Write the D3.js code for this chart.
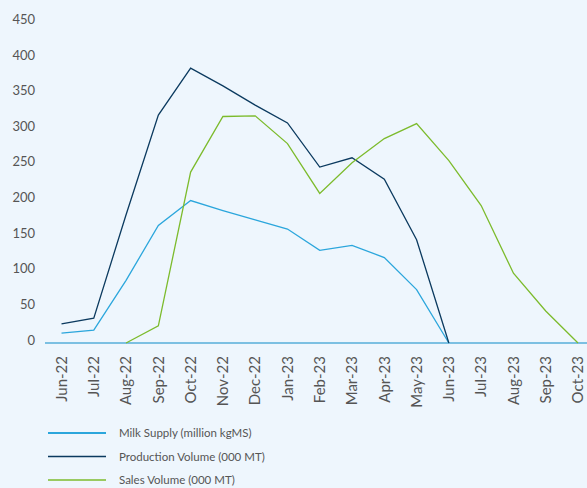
<!DOCTYPE html>
<html>
<head>
<meta charset="utf-8">
<script src="https://cdn.jsdelivr.net/npm/d3@7"></script>
<style>
  body { margin: 0; background: #eef6fd; }
  svg { display: block; font-family: Lato, "Open Sans", sans-serif; }
</style>
</head>
<body>
<div id="chart"></div>
<script>
///////////////////////////////////////////////////////////////////////////////////////////////////

const months = ["Jun-22", "Jul-22", "Aug-22", "Sep-22", "Oct-22", "Nov-22", "Dec-22", "Jan-23",
    "Feb-23", "Mar-23", "Apr-23", "May-23", "Jun-23", "Jul-23", "Aug-23", "Sep-23", "Oct-23"];
const milk_supply = [14, 18, 88, 165, 200, 186, 173, 160, 130, 137, 120, 75, 0, null, null, null, null];
const production  = [27, 35, 180, 320, 386, 361, 334, 309, 247, 260, 230, 145, 0, null, null, null, null];
const sales       = [null, null, 0, 24, 240, 318, 319, 280, 210, 253, 287, 308, 256, 193, 98, 45, 0];
const y_ticks = [0, 50, 100, 150, 200, 250, 300, 350, 400, 450];

const series = [
    { name: "Milk Supply (million kgMS)", values: milk_supply, color: "#2ba6dc" },
    { name: "Production Volume (000 MT)", values: production, color: "#0b3a5f" },
    { name: "Sales Volume (000 MT)", values: sales, color: "#7cbb2c" }
];

///////////////////////////////////////////////////////////////////////////////////////////////////

var svg_width = 587, svg_height = 488;
var svg = d3.select("#chart").append("svg")
    .attr("width", svg_width)
    .attr("height", svg_height);

svg.append("rect")
    .attr("width", svg_width).attr("height", svg_height)
    .attr("fill", "#eef6fd");

var x = d3.scalePoint()
    .domain(months)
    .range([61.5, 578]);

var y = d3.scaleLinear()
    .domain([0, 450])
    .range([343, 22.5]);

// y axis labels (no line)
svg.append("g")
    .selectAll("text")
    .data(y_ticks)
    .join("text")
        .attr("x", 35)
        .attr("y", function(d) { return y(d) - 3; })
        .attr("dy", "0.35em")
        .attr("text-anchor", "end")
        .attr("font-size", 13)
        .attr("fill", "#555")
        .text(function(d) { return d; });

// baseline
svg.append("line")
    .attr("x1", 45).attr("x2", svg_width)
    .attr("y1", y(0)).attr("y2", y(0))
    .attr("stroke", "#7cc0e2")
    .attr("stroke-width", 2);

// x labels, rotated
svg.append("g")
    .selectAll("text")
    .data(months)
    .join("text")
        .attr("transform", function(d) { return "translate(" + x(d) + "," + 356 + ") rotate(-90)"; })
        .attr("dy", "0.35em")
        .attr("text-anchor", "end")
        .attr("font-size", 15)
        .attr("fill", "#555")
        .text(function(d) { return d; });

var line = d3.line()
    .defined(function(d) { return d != null; })
    .x(function(d, i) { return x(months[i]); })
    .y(function(d) { return y(d); });

svg.append("g")
    .selectAll("path")
    .data(series)
    .join("path")
        .attr("fill", "none")
        .attr("stroke", function(d) { return d.color; })
        .attr("stroke-width", 1.3)
        .attr("stroke-linejoin", "miter")
        .attr("d", function(d) { return line(d.values); });

// legend
var legend = svg.append("g")
    .selectAll("g")
    .data(series)
    .join("g")
        .attr("transform", function(d, i) { return "translate(48," + (433 + i * 23.5) + ")"; });

legend.append("line")
    .attr("x1", 0).attr("x2", 58)
    .attr("stroke", function(d) { return d.color; })
    .attr("stroke-width", function(d, i) { return i == 0 ? 2 : 1.5; });

legend.append("text")
    .attr("x", 71)
    .attr("dy", "0.35em")
    .attr("font-size", 11.5)
    .attr("fill", "#555")
    .text(function(d) { return d.name; });
</script>
</body>
</html>
